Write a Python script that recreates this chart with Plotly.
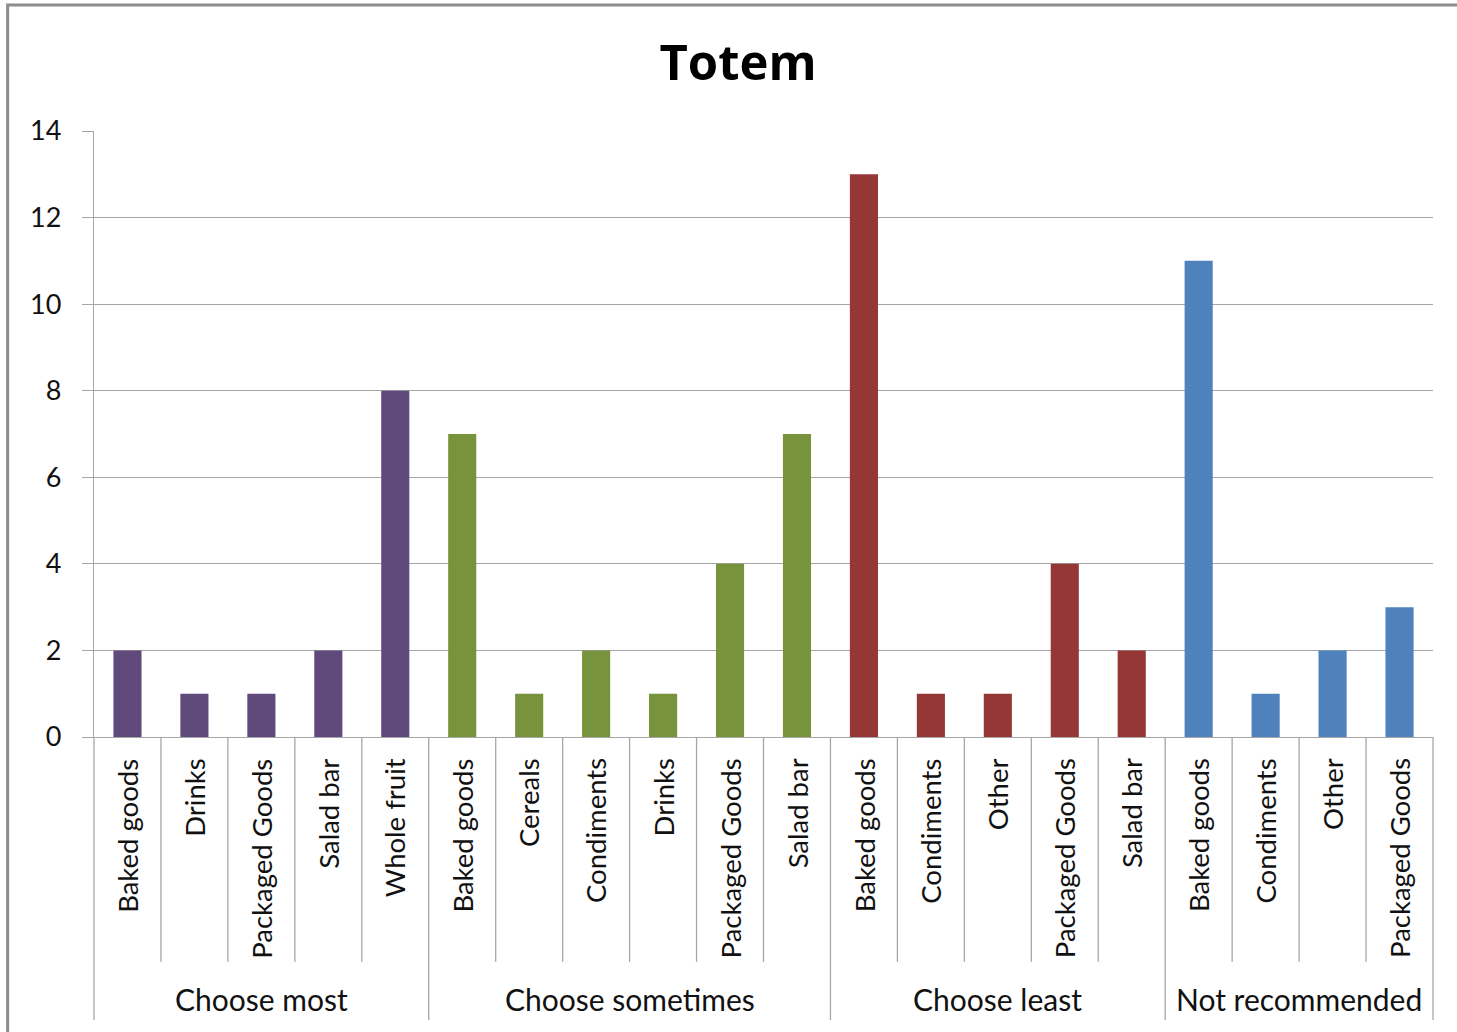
import plotly.graph_objects as go

groups = ["Choose most", "Choose sometimes", "Choose least", "Not recommended"]
categories = [
    ["Baked goods", "Drinks", "Packaged Goods", "Salad bar", "Whole fruit"],
    ["Baked goods", "Cereals", "Condiments", "Drinks", "Packaged Goods", "Salad bar"],
    ["Baked goods", "Condiments", "Other", "Packaged Goods", "Salad bar"],
    ["Baked goods", "Condiments", "Other", "Packaged Goods"],
]
values = [
    [2, 1, 1, 2, 8],
    [7, 1, 2, 1, 4, 7],
    [13, 1, 1, 4, 2],
    [11, 1, 2, 3],
]
colors = ["#604A7B", "#77933C", "#953735", "#4F81BD"]

FONT = "Lato, 'Open Sans', sans-serif"
GRID = "#A6A6A6"

fig = go.Figure()
n_total = sum(len(c) for c in categories)
start = 0
annotations = []
shapes = []
for g, cats, vals, col in zip(groups, categories, values, colors):
    xs = list(range(start, start + len(cats)))
    fig.add_trace(go.Bar(x=xs, y=vals, marker=dict(color=col, line=dict(width=0)),
                         width=0.42, name=g, showlegend=False))
    for x, c in zip(xs, cats):
        annotations.append(dict(x=x, y=-0.032, xref="x", yref="paper", text=c,
                                textangle=-90, showarrow=False, xanchor="center",
                                yanchor="top", font=dict(family=FONT, size=27.5, color="#111")))
    mid = (xs[0] + xs[-1]) / 2
    annotations.append(dict(x=mid, y=-0.433, xref="x", yref="paper", text=g,
                            showarrow=False, xanchor="center", yanchor="middle",
                            font=dict(family=FONT, size=30, color="#111")))
    start += len(cats)

# separators
acc = 0
group_edges = {0}
for cats in categories:
    acc += len(cats)
    group_edges.add(acc)
for k in range(n_total + 1):
    ybot = -0.467 if k in group_edges else -0.371
    shapes.append(dict(type="line", xref="paper", yref="paper", x0=k / n_total, x1=k / n_total,
                       y0=0, y1=ybot, line=dict(color=GRID, width=1.3)))

# outer border
shapes.append(dict(type="rect", xref="paper", yref="paper", x0=-0.0645, x1=1.03,
                   y0=1.208, y1=-0.495, line=dict(color="#8C8C8C", width=3),
                   fillcolor="rgba(0,0,0,0)", layer="above"))

fig.update_layout(
    width=1457, height=1032,
    margin=dict(l=94, r=24, t=131, b=295),
    paper_bgcolor="white", plot_bgcolor="white",
    title=dict(text="<b>Totem</b>", x=738 / 1457, xref="container", xanchor="center",
               y=1 - 63 / 1032, yref="container", yanchor="middle",
               font=dict(family="'Open Sans', sans-serif", size=49, color="black")),
    xaxis=dict(range=[-0.5, n_total - 0.5], showticklabels=False, showgrid=False,
               zeroline=False, showline=True, linecolor=GRID, linewidth=1.3, ticks=""),
    yaxis=dict(range=[0, 14], dtick=2, showgrid=True, gridcolor=GRID, gridwidth=1.3,
               zeroline=False, showline=True, linecolor=GRID, linewidth=1.3,
               ticks="outside", ticklen=11, tickcolor=GRID, tickwidth=1.3,
               ticklabelstandoff=15,
               tickfont=dict(family=FONT, size=27, color="#111")),
    annotations=annotations,
    shapes=shapes,
    bargap=0.58,
)
fig.write_html("out.html")
